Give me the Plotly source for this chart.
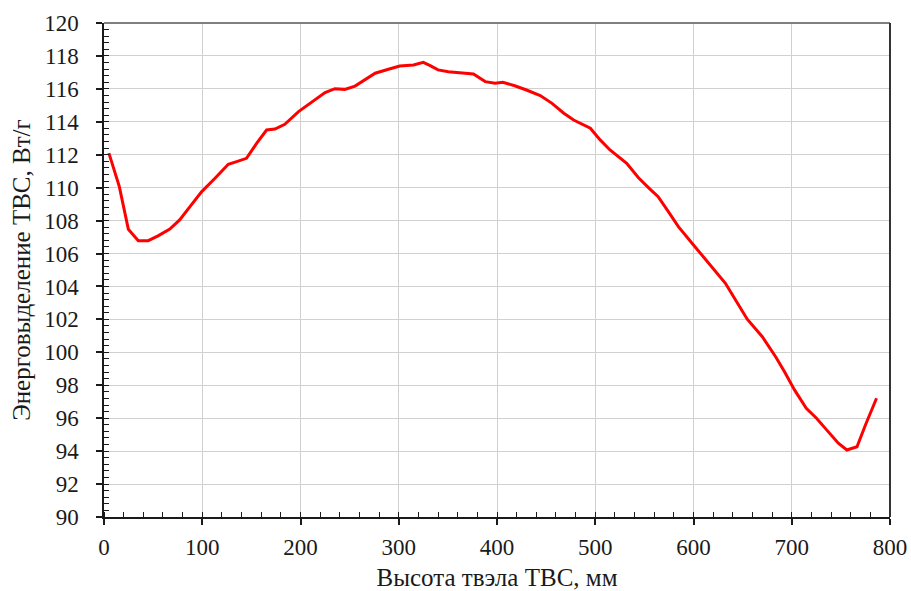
import plotly.graph_objects as go

height_mm = [5, 15.6, 24.8, 34.9, 45, 55, 67, 77, 87.5, 99.5, 113, 126.5, 135, 145, 155.5,
             165.5, 174, 184, 198, 210, 225, 235, 245, 255.5, 267.5, 276, 289.5, 301, 315,
             325, 332, 340, 350.5, 364, 376, 388, 398, 406, 418, 430, 444, 456, 468, 478,
             495, 505, 515, 532, 544, 556, 564, 574.4, 584.6, 600, 615.4, 632.5, 642.8,
             654.7, 670, 683.9, 692.5, 702.8, 714.8, 725.2, 735.5, 747.4, 756.1, 766.4,
             775, 786.3]
power = [112.1, 110.06, 107.47, 106.78, 106.78, 107.07, 107.49, 108.04, 108.85, 109.76,
         110.57, 111.42, 111.58, 111.78, 112.7, 113.5, 113.56, 113.85, 114.62, 115.12,
         115.77, 116.01, 115.97, 116.17, 116.64, 116.95, 117.19, 117.39, 117.45, 117.61,
         117.41, 117.15, 117.04, 116.95, 116.9, 116.44, 116.34, 116.4, 116.19, 115.93,
         115.59, 115.12, 114.52, 114.11, 113.61, 112.9, 112.29, 111.48, 110.6, 109.9,
         109.45, 108.54, 107.63, 106.52, 105.41, 104.19, 103.18, 102.01, 100.95, 99.7,
         98.83, 97.72, 96.6, 96.0, 95.29, 94.48, 94.07, 94.27, 95.59, 97.21]

x_title = "Высота твэла ТВС, мм"
y_title = "Энерговыделение ТВС, Вт/г"

font_family = "Liberation Serif, Times New Roman, serif"
tick_font = dict(family=font_family, size=23, color="#1a1a1a")
title_font = dict(family=font_family, size=25, color="#1a1a1a")

fig = go.Figure()
fig.add_trace(go.Scatter(x=height_mm, y=power, mode="lines",
                         line=dict(color="#ff0000", width=3), showlegend=False))

fig.update_layout(
    width=911, height=591,
    margin=dict(l=104, r=21, t=23, b=74, autoexpand=False),
    paper_bgcolor="white", plot_bgcolor="white",
    font=dict(family=font_family, size=23, color="#1a1a1a"),
)
fig.update_xaxes(
    range=[0, 800], tickmode="linear", tick0=0, dtick=100,
    showgrid=True, gridcolor="#d0d0d0", gridwidth=1,
    showline=True, linecolor="#1a1a1a", linewidth=1.5,
    ticks="outside", ticklen=6, tickcolor="#1a1a1a", tickwidth=1.5,
    minor=dict(ticks="inside", dtick=20, ticklen=5, tickcolor="#1a1a1a", tickwidth=1, showgrid=False),
    ticklabelstandoff=3, ticklabeloverflow="allow", tickfont=tick_font, automargin=False,
    zeroline=False,
    title=dict(text=x_title, font=title_font, standoff=16),
)
fig.update_yaxes(
    range=[90, 120], tickmode="linear", tick0=90, dtick=2,
    showgrid=True, gridcolor="#d0d0d0", gridwidth=1,
    showline=True, linecolor="#1a1a1a", linewidth=1.5,
    ticks="outside", ticklen=6, tickcolor="#1a1a1a", tickwidth=1.5,
    minor=dict(ticks="inside", dtick=0.4, ticklen=5, tickcolor="#1a1a1a", tickwidth=1, showgrid=False),
    ticklabelstandoff=13, tickfont=tick_font, automargin=False,
    zeroline=False,
    title=dict(text=y_title, font=title_font, standoff=6),
)
fig.add_shape(type="line", xref="paper", yref="paper", x0=0, x1=1, y0=1, y1=1,
              line=dict(color="#808080", width=2))
fig.add_shape(type="line", xref="paper", yref="paper", x0=1, x1=1, y0=0, y1=1,
              line=dict(color="#333333", width=2))

# remove the default 8px page margin so the figure fills the window exactly
fig.write_html("out.html", config={"displayModeBar": False},
               post_script="document.body.style.margin='0px';")
